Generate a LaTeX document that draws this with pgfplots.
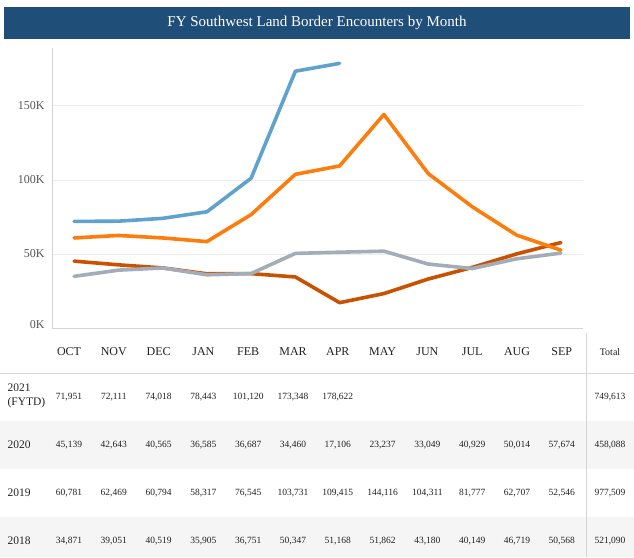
\documentclass[border=0pt]{standalone}
\usepackage{pgfplots}
\usepackage{pgfplotstable}
\usepackage{fontspec}
\setmainfont{Liberation Serif}
\pgfplotsset{compat=1.18}

\definecolor{titlebar}{HTML}{1F4E79}
\definecolor{c21}{HTML}{5FA2CE}
\definecolor{c20}{HTML}{C85200}
\definecolor{c19}{HTML}{FC7D0B}
\definecolor{c18}{HTML}{A3ACB9}
\definecolor{band}{HTML}{F5F5F5}
\definecolor{rulec}{HTML}{D4D4D4}
\definecolor{gridc}{HTML}{ECECEC}
\definecolor{tickc}{HTML}{555555}
\definecolor{txt}{HTML}{222222}

% monthly encounters, fiscal year (OCT=0 ... SEP=11)
\pgfplotstableread{
idx y2021  y2020 y2019  y2018
0   71951  45139 60781  34871
1   72111  42643 62469  39051
2   74018  40565 60794  40519
3   78443  36585 58317  35905
4   101120 36687 76545  36751
5   173348 34460 103731 50347
6   178622 17106 109415 51168
7   nan    23237 144116 51862
8   nan    33049 104311 43180
9   nan    40929 81777  40149
10  nan    50014 62707  46719
11  nan    57674 52546  50568
}\encounters

\pgfkeys{/pgf/number format/.cd, fixed, precision=0, 1000 sep={,}, assume math mode=true}

\begin{document}
\begin{tikzpicture}
\begin{scope}[x=1pt,y=-1pt]
  \useasboundingbox (0,0) rectangle (634,557);
  \fill[white] (0,0) rectangle (634,557);
  % title bar
  \fill[titlebar] (4,7) rectangle (630,39);
  \node[text=white, font=\fontsize{15}{18}\selectfont] at (317,23) {FY Southwest Land Border Encounters by Month};
  % table bands and rules
  \fill[band] (0,421) rectangle (634,469);
  \fill[band] (0,517) rectangle (634,557);
  \draw[rulec, line width=0.8pt] (0,373) -- (634,373);
  \draw[rulec, line width=0.8pt] (586,333) -- (586,557);
\end{scope}

\begin{axis}[
  at={(52pt,-328pt)}, anchor=south west,
  scale only axis, width=531pt, height=280pt,
  xmin=-0.5, xmax=11.5, ymin=0, ymax=189000,
  axis x line*=bottom, axis y line*=left,
  axis line style={draw=rulec, line width=0.8pt, -},
  xtick=\empty,
  ytick={0,50000,100000,150000},
  yticklabels={\raisebox{7pt}{0K},50K,100K,150K},
  scaled y ticks=false,
  ymajorgrids, major grid style={draw=gridc, line width=0.7pt},
  major tick length=0pt,
  yticklabel style={font=\fontsize{12}{14}\selectfont, text=tickc, xshift=-4pt},
  clip=false,
  every axis plot/.append style={line width=3.6pt, line join=round, line cap=round},
]
\addplot[c20] table[x=idx, y=y2020] {\encounters};
\addplot[c18] table[x=idx, y=y2018] {\encounters};
\addplot[c19] table[x=idx, y=y2019] {\encounters};
\addplot[c21, unbounded coords=discard] table[x=idx, y=y2021] {\encounters};
\end{axis}

\begin{scope}[x=1pt,y=-1pt]
  % header row
  \foreach \m [count=\i from 0] in {OCT,NOV,DEC,JAN,FEB,MAR,APR,MAY,JUN,JUL,AUG,SEP}
    \node[text=txt, font=\fontsize{12}{14}\selectfont] at ({69+44.8*\i},352) {\m};
  \node[text=txt, font=\fontsize{10}{12}\selectfont] at (610,352) {Total};
  % row labels
  \node[text=txt, font=\fontsize{11.5}{14}\selectfont, anchor=west, align=left] at (4,396) {2021\\(FYTD)};
  \node[text=txt, font=\fontsize{11.5}{14}\selectfont, anchor=west] at (4,445) {2020};
  \node[text=txt, font=\fontsize{11.5}{14}\selectfont, anchor=west] at (4,493) {2019};
  \node[text=txt, font=\fontsize{11.5}{14}\selectfont, anchor=west] at (4,541) {2018};
  % cell values
  \foreach \i in {0,...,6} {
    \pgfplotstablegetelem{\i}{y2021}\of\encounters
    \node[text=txt, font=\fontsize{9.5}{11}\selectfont] at ({69+44.8*\i},397)
      {\pgfmathprintnumber{\pgfplotsretval}};
  }
  \foreach \col/\yy in {y2020/445,y2019/493,y2018/541} {
    \foreach \i in {0,...,11} {
      \pgfplotstablegetelem{\i}{\col}\of\encounters
      \node[text=txt, font=\fontsize{9.5}{11}\selectfont] at ({69+44.8*\i},\yy)
        {\pgfmathprintnumber{\pgfplotsretval}};
    }
  }
  % totals
  \foreach \t/\yy in {{749,613}/397,{458,088}/445,{977,509}/493,{521,090}/541}
    \node[text=txt, font=\fontsize{9.5}{11}\selectfont] at (610,\yy) {\t};
\end{scope}
\end{tikzpicture}
\end{document}
